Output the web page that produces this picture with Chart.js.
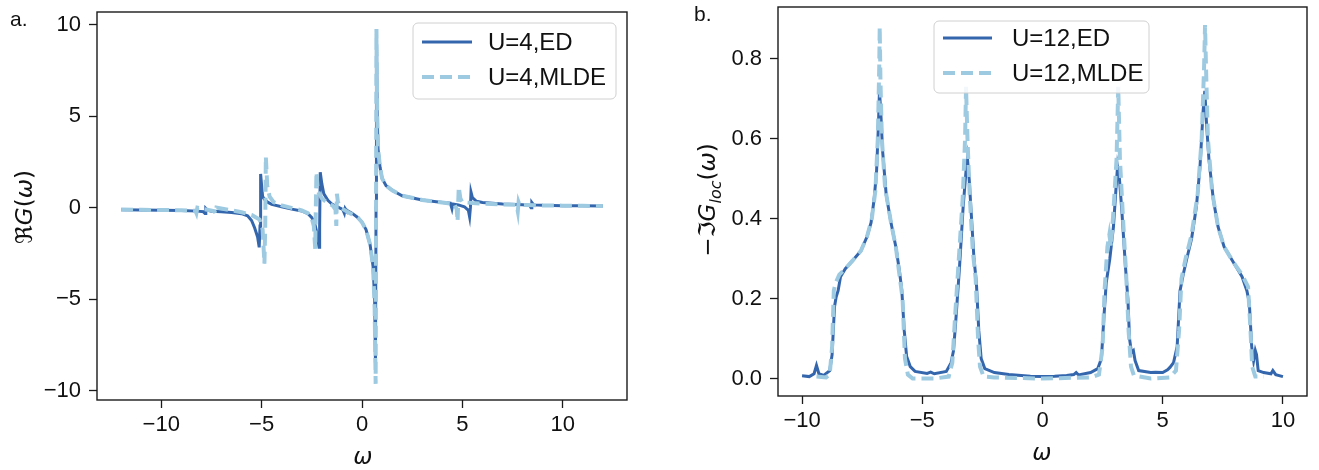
<!DOCTYPE html>
<html><head><meta charset="utf-8">
<script src="https://cdn.jsdelivr.net/npm/chart.js@4.4.1/dist/chart.umd.min.js"></script>
<style>
html,body{margin:0;padding:0;background:#fff}
body{width:1319px;height:470px;overflow:hidden;position:relative;font-family:"Liberation Sans",Arial,sans-serif;color:#111}
.pane{position:absolute;top:0}
.txt{position:absolute;white-space:nowrap;line-height:1}
.rot{transform:translate(-50%,-50%) rotate(-90deg)}
.ctr{transform:translate(-50%,-50%)}
.m{font-family:"DejaVu Sans",sans-serif;font-size:23px}
.i{font-style:italic}
</style></head><body>
<div class="pane" style="left:0;width:659px;height:470px"><canvas id="ca" width="659" height="470"></canvas></div>
<div class="pane" style="left:660px;width:659px;height:470px"><canvas id="cb" width="659" height="470"></canvas></div>
<div class="txt" style="left:10px;top:8px;font-size:21px">a.</div>
<div class="txt" style="left:694px;top:3px;font-size:21px">b.</div>
<div class="txt m rot" style="left:24px;top:207px">ℜ<span class="i">G</span>(<span class="i">ω</span>)</div>
<div class="txt m rot" style="left:710px;top:200px">−ℑ<span class="i">G</span><sub class="i" style="font-size:16px">loc</sub>(<span class="i">ω</span>)</div>
<div class="txt m ctr i" style="left:363px;top:456px">ω</div>
<div class="txt m ctr i" style="left:1042px;top:452px">ω</div>
<script>
// ---------- Panel a: Re G(omega), U=4 ----------
const aEdX = [-12,-11,-10,-9,-8.2,-7.9,-7.82,-7.78,-7.72,-7.5,-7,-6.5,-6,-5.7,-5.5,-5.35,-5.2,-5.12,-5.08,-5.05,-5.0,-4.95,-4.85,-4.7,-4.5,-4.0,-3.5,-3.0,-2.7,-2.5,-2.35,-2.22,-2.14,-2.11,-2.08,-2.0,-1.9,-1.7,-1.5,-1.25,-1.05,-0.95,-0.88,-0.84,-0.8,-0.5,-0.2,0.0,0.2,0.4,0.55,0.63,0.67,0.70,0.72,0.76,0.8,0.9,1.0,1.2,1.5,2.0,3.0,4.0,4.4,4.48,4.52,4.8,5.1,5.3,5.36,5.40,5.43,5.5,5.7,6.0,7.0,8.0,8.35,8.42,8.46,8.55,9,10,11,12];
const aEdY = [-0.12,-0.13,-0.14,-0.16,-0.19,-0.22,-0.32,-0.05,-0.12,-0.2,-0.22,-0.27,-0.33,-0.45,-0.7,-1.1,-1.6,-2.17,-1.0,1.84,1.2,0.6,0.45,0.3,0.18,0.05,-0.08,-0.18,-0.32,-0.55,-0.9,-1.5,-2.17,-1.0,1.93,1.3,0.75,0.4,0.2,0.05,-0.05,-0.12,-0.3,-0.05,-0.12,-0.3,-0.55,-0.8,-1.2,-2.0,-3.2,-5.0,-8.5,0.0,9.5,5.0,3.2,2.2,1.6,1.2,0.95,0.65,0.42,0.28,0.25,-0.05,0.2,0.15,0.05,-0.15,-0.5,0.0,0.85,0.55,0.35,0.28,0.2,0.16,0.12,0.0,0.28,0.15,0.13,0.11,0.1,0.09];
const aMlX = [-12,-11,-10,-9,-8.3,-8.25,-8.2,-7.35,-7.3,-7.25,-6,-5.5,-5.1,-4.95,-4.86,-4.82,-4.79,-4.72,-4.6,-4.4,-4.0,-3.0,-2.7,-2.5,-2.4,-2.33,-2.30,-2.27,-2.2,-2.0,-1.7,-1.45,-1.32,-1.28,-1.25,-1.2,-1.0,-0.6,-0.2,0.0,0.2,0.4,0.55,0.63,0.68,0.70,0.72,0.76,0.8,0.9,1.0,1.2,1.5,2.0,3.0,4.0,4.6,4.72,4.76,4.79,4.82,4.9,5.0,5.5,6.0,7.0,7.7,7.76,7.8,7.85,9,10,11,12];
const aMlY = [-0.1,-0.12,-0.13,-0.14,-0.17,-0.3,0.0,-0.2,-0.32,0.0,-0.25,-0.4,-0.65,-1.2,-3.06,-1.0,2.79,1.2,0.6,0.3,0.12,-0.15,-0.3,-0.6,-1.0,-2.25,0.0,1.93,0.9,0.5,0.25,0.1,-0.1,-1.0,0.76,0.3,-0.05,-0.3,-0.55,-0.8,-1.2,-2.0,-3.2,-5.5,-9.63,0.0,9.76,5.0,3.2,2.2,1.6,1.2,0.95,0.65,0.42,0.28,0.2,-0.1,-0.75,0.2,1.13,0.5,0.3,0.25,0.22,0.18,0.15,-0.2,0.3,0.15,0.12,0.11,0.1,0.09];
const aXTicks = [-10,-5,0,5,10];
const aYTicks = [-10,-5,0,5,10];
const aLabels = ['U=4,ED','U=4,MLDE'];

// ---------- Panel b: -Im G_loc(omega), U=12 ----------
const bEdX = [-10.0,-9.7,-9.5,-9.4,-9.3,-9.1,-8.85,-8.75,-8.65,-8.58,-8.5,-8.4,-8.2,-7.9,-7.55,-7.3,-7.13,-7.0,-6.9,-6.82,-6.78,-6.72,-6.65,-6.5,-6.3,-6.1,-5.95,-5.85,-5.75,-5.65,-5.5,-5.3,-4.8,-4.65,-4.5,-4.0,-3.8,-3.7,-3.6,-3.45,-3.3,-3.18,-3.12,-3.05,-2.95,-2.85,-2.75,-2.65,-2.55,-2.4,-2.0,-1.4,-0.5,0,0.5,1.0,1.3,1.4,1.5,2.0,2.3,2.45,2.55,2.65,2.8,2.95,3.05,3.12,3.2,3.3,3.45,3.55,3.62,3.7,3.78,3.85,4.0,4.5,4.7,5.0,5.2,5.3,5.45,5.6,5.72,5.85,6.0,6.2,6.4,6.55,6.68,6.75,6.82,6.92,7.1,7.3,7.55,7.95,8.3,8.5,8.6,8.7,8.78,8.85,8.9,8.97,9.2,9.5,9.58,9.7,10.0];
const bEdY = [0.007,0.005,0.012,0.033,0.012,0.008,0.02,0.06,0.18,0.205,0.22,0.255,0.275,0.295,0.32,0.355,0.39,0.45,0.52,0.64,0.72,0.66,0.57,0.46,0.39,0.33,0.27,0.22,0.12,0.055,0.03,0.018,0.013,0.016,0.012,0.018,0.04,0.07,0.15,0.28,0.43,0.52,0.55,0.5,0.4,0.3,0.24,0.12,0.05,0.025,0.015,0.01,0.006,0.005,0.006,0.008,0.01,0.015,0.009,0.015,0.025,0.05,0.15,0.24,0.3,0.38,0.47,0.53,0.5,0.42,0.28,0.2,0.1,0.065,0.07,0.045,0.02,0.015,0.016,0.015,0.022,0.028,0.04,0.08,0.22,0.26,0.3,0.35,0.43,0.53,0.67,0.72,0.64,0.55,0.45,0.38,0.33,0.29,0.255,0.22,0.19,0.08,0.045,0.07,0.06,0.02,0.015,0.012,0.02,0.01,0.005];
const bMlX = [-9.4,-9.0,-8.85,-8.75,-8.68,-8.6,-8.45,-8.2,-7.9,-7.55,-7.3,-7.1,-6.95,-6.85,-6.79,-6.77,-6.74,-6.68,-6.55,-6.3,-6.1,-5.95,-5.82,-5.72,-5.6,-5.4,-4.5,-3.9,-3.75,-3.62,-3.48,-3.32,-3.22,-3.18,-3.12,-3.02,-2.9,-2.78,-2.68,-2.6,-2.45,-2.0,0,2.0,2.35,2.5,2.58,2.7,2.78,2.85,2.95,3.08,3.15,3.22,3.35,3.48,3.58,3.68,3.8,4.5,5.3,5.55,5.68,5.78,5.95,6.2,6.45,6.62,6.72,6.76,6.8,6.88,7.05,7.3,7.55,7.95,8.3,8.55,8.65,8.72,8.85,9.2];
const bMlY = [0.005,0.003,0.01,0.08,0.22,0.24,0.26,0.275,0.295,0.32,0.355,0.4,0.47,0.6,0.78,0.88,0.75,0.6,0.48,0.39,0.33,0.26,0.2,0.05,0.01,0.0,0.0,0.005,0.04,0.17,0.3,0.45,0.6,0.73,0.6,0.45,0.32,0.25,0.1,0.03,0.005,0.003,0.0,0.003,0.01,0.08,0.22,0.33,0.36,0.33,0.42,0.55,0.73,0.55,0.4,0.26,0.12,0.03,0.008,0.0,0.003,0.02,0.12,0.25,0.3,0.36,0.46,0.6,0.78,0.885,0.78,0.6,0.47,0.38,0.33,0.29,0.26,0.23,0.12,0.03,0.005,0.005];
const bXTicks = [-10,-5,0,5,10];
const bYTicks = [0.0,0.2,0.4,0.6,0.8];
const bLabels = ['U=12,ED','U=12,MLDE'];

const DARK = '#3466ad', LIGHT = '#9ecae1';
const pts = (xs, ys) => xs.map((x, i) => ({x, y: ys[i]}));
const minus = s => String(s).replace('-', '\u2212');

const framePlugin = {
  id: 'frameLegend',
  afterDatasetsDraw(chart, args, o) {
    const {ctx, chartArea: a} = chart;
    ctx.save();
    ctx.strokeStyle = '#1a1a1a'; ctx.lineWidth = 1.4;
    ctx.strokeRect(a.left, a.top, a.right - a.left, a.bottom - a.top);
    const L = o.box;
    if (L) {
      ctx.beginPath();
      ctx.roundRect(L.x, L.y, L.w, L.h, 5);
      ctx.fillStyle = 'rgba(255,255,255,0.85)';
      ctx.fill();
      ctx.strokeStyle = '#d0d0d0'; ctx.lineWidth = 1;
      ctx.stroke();
      chart.data.datasets.forEach((ds, i) => {
        const y = L.rows[i];
        ctx.beginPath();
        ctx.setLineDash(ds.borderDash || []);
        ctx.strokeStyle = ds.borderColor; ctx.lineWidth = ds.borderWidth;
        ctx.moveTo(L.sx0, y); ctx.lineTo(L.sx1, y); ctx.stroke();
        ctx.setLineDash([]);
        ctx.fillStyle = '#111';
        ctx.font = '24px "Liberation Sans", Arial, sans-serif';
        ctx.textBaseline = 'middle';
        ctx.fillText(ds.label, L.tx, y + 1);
      });
    }
    ctx.restore();
  }
};

function makeChart(id, sets, xr, yr, xt, yt, fmtY, box, axW, axH, pad) {
  const tickFont = {family: '"Liberation Sans", Arial, sans-serif', size: 22};
  return new Chart(document.getElementById(id), {
    type: 'line',
    data: {datasets: sets},
    options: {
      responsive: false, animation: false,
      layout: {padding: pad},
      elements: {point: {radius: 0}, line: {tension: 0}},
      plugins: {legend: {display: false}, tooltip: {enabled: false}, frameLegend: {box}},
      scales: {
        x: {type: 'linear', min: xr[0], max: xr[1],
            afterBuildTicks: s => { s.ticks = xt.map(v => ({value: v})); },
            afterFit: s => { s.height = axH; s.paddingLeft = 0; s.paddingRight = 0; },
            grid: {drawOnChartArea: false, drawTicks: true, tickLength: 8, tickColor: '#1a1a1a', tickWidth: 1.3},
            border: {display: false},
            ticks: {font: tickFont, color: '#111', padding: 4, maxRotation: 0, callback: v => minus(v)}},
        y: {type: 'linear', min: yr[0], max: yr[1],
            afterBuildTicks: s => { s.ticks = yt.map(v => ({value: v})); },
            afterFit: s => { s.width = axW; s.paddingTop = 0; s.paddingBottom = 0; },
            grid: {drawOnChartArea: false, drawTicks: true, tickLength: 8, tickColor: '#1a1a1a', tickWidth: 1.3},
            border: {display: false},
            ticks: {font: tickFont, color: '#111', padding: 8, callback: v => fmtY(v)}}
      }
    },
    plugins: [framePlugin]
  });
}

function sets(edX, edY, mlX, mlY, labels) {
  return [
    {label: labels[0], data: pts(edX, edY), borderColor: DARK, borderWidth: 3, order: 1, fill: false},
    {label: labels[1], data: pts(mlX, mlY), borderColor: LIGHT, borderWidth: 4, borderDash: [12, 6], order: 0, fill: false}
  ];
}

makeChart('ca', sets(aEdX, aEdY, aMlX, aMlY, aLabels), [-13.2, 13.2], [-10.51, 10.69], aXTicks, aYTicks,
  v => minus(v),
  {x: 413, y: 23, w: 203, h: 76, rows: [42, 77], sx0: 422, sx1: 472, tx: 488},
  97, 70, {left: 0, right: 32, top: 12, bottom: 0});

makeChart('cb', sets(bEdX, bEdY, bMlX, bMlY, bLabels), [-11, 11], [-0.0436, 0.930], bXTicks, bYTicks,
  v => v.toFixed(1),
  {x: 274, y: 21, w: 215, h: 72, rows: [38, 73], sx0: 283, sx1: 332, tx: 352},
  118, 74, {left: 0, right: 12, top: 7, bottom: 0});
</script>
</body></html>
